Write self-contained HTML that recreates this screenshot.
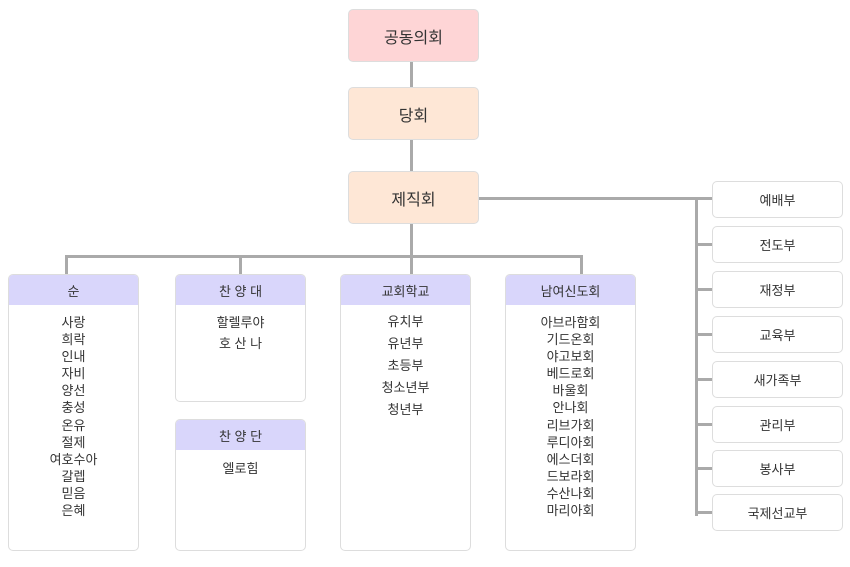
<!DOCTYPE html>
<html><head><meta charset="utf-8"><style>
body{margin:0;width:850px;height:567px;background:#fff;position:relative;font-family:"Liberation Sans","Noto Sans CJK KR",sans-serif;color:#333;overflow:hidden}
.b{position:absolute;box-sizing:border-box;border:1px solid #ddd;border-radius:5px;display:flex;align-items:center;justify-content:center}
.t{width:131px;height:53px;font-size:16px;left:348px}
.r{left:712px;width:131px;height:37px;font-size:13px;background:#fff}
.l{position:absolute;background:#aaa}
.g{position:absolute;box-sizing:border-box;border:1px solid #ddd;border-radius:5px;background:#fff;overflow:hidden;width:131px}
.g .h{height:30px;background:#d9d6fb;display:flex;align-items:center;justify-content:center;font-size:13px}
.g .c{text-align:center;font-size:13px;padding-top:9px}
</style></head><body>
<div class="l" style="left:410px;top:62px;width:3px;height:110px"></div>
<div class="l" style="left:410px;top:224px;width:3px;height:50px"></div>
<div class="l" style="left:65px;top:255px;width:518px;height:3px"></div>
<div class="l" style="left:65px;top:255px;width:3px;height:20px"></div>
<div class="l" style="left:239px;top:255px;width:3px;height:20px"></div>
<div class="l" style="left:580px;top:255px;width:3px;height:20px"></div>
<div class="l" style="left:479px;top:197px;width:233px;height:3px"></div>
<div class="l" style="left:695px;top:197px;width:3px;height:319px"></div>
<div class="l" style="left:695px;top:243px;width:17px;height:3px"></div>
<div class="l" style="left:695px;top:288px;width:17px;height:3px"></div>
<div class="l" style="left:695px;top:333px;width:17px;height:3px"></div>
<div class="l" style="left:695px;top:378px;width:17px;height:3px"></div>
<div class="l" style="left:695px;top:423px;width:17px;height:3px"></div>
<div class="l" style="left:695px;top:467px;width:17px;height:3px"></div>
<div class="l" style="left:695px;top:511px;width:17px;height:3px"></div>
<div class="b t" style="top:9px;background:#fed5d6">공동의회</div>
<div class="b t" style="top:87px;background:#fee7d6">당회</div>
<div class="b t" style="top:171px;background:#fee7d6">제직회</div>
<div class="b r" style="top:181px">예배부</div>
<div class="b r" style="top:226px">전도부</div>
<div class="b r" style="top:271px">재정부</div>
<div class="b r" style="top:316px">교육부</div>
<div class="b r" style="top:361px">새가족부</div>
<div class="b r" style="top:406px">관리부</div>
<div class="b r" style="top:450px">봉사부</div>
<div class="b r" style="top:494px">국제선교부</div>
<div class="g" style="left:8px;top:274px;height:277px"><div class="h">순</div><div class="c" style="line-height:17.1px">사랑<br>희락<br>인내<br>자비<br>양선<br>충성<br>온유<br>절제<br>여호수아<br>갈렙<br>믿음<br>은혜</div></div>
<div class="g" style="left:175px;top:274px;height:128px"><div class="h">찬 양 대</div><div class="c" style="line-height:21px;padding-top:7px">할렐루야<br>호 산 나</div></div>
<div class="g" style="left:175px;top:419px;height:132px"><div class="h">찬 양 단</div><div class="c" style="padding-top:8px">엘로힘</div></div>
<div class="g" style="left:340px;top:274px;height:277px"><div class="h">교회학교</div><div class="c" style="line-height:22px;padding-top:6px">유치부<br>유년부<br>초등부<br>청소년부<br>청년부</div></div>
<div class="g" style="left:505px;top:274px;height:277px"><div class="h">남여신도회</div><div class="c" style="line-height:17.1px">아브라함회<br>기드온회<br>야고보회<br>베드로회<br>바울회<br>안나회<br>리브가회<br>루디아회<br>에스더회<br>드보라회<br>수산나회<br>마리아회</div></div>
</body></html>
